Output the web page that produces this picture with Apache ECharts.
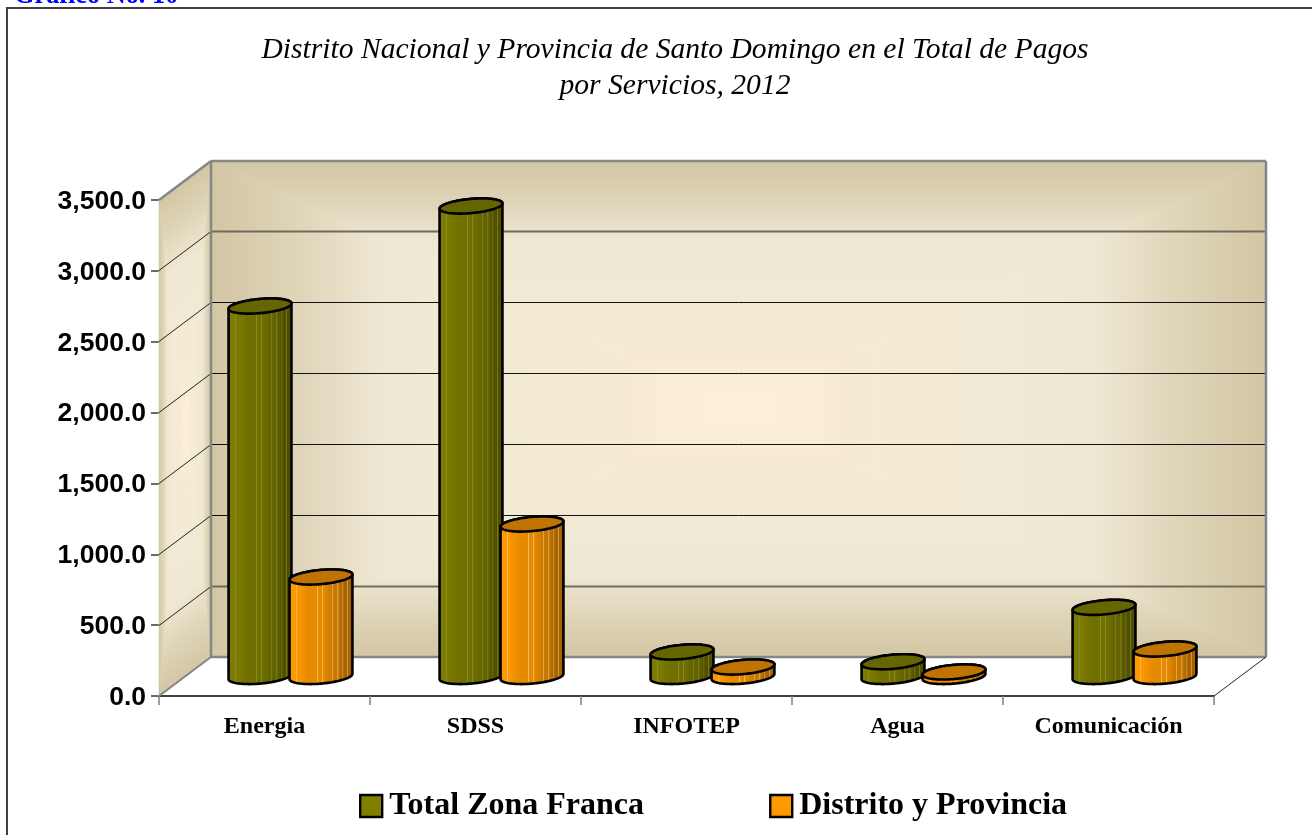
<!DOCTYPE html>
<html><head><meta charset="utf-8">
<style>html,body{margin:0;padding:0;background:#fff;overflow:hidden}#c{width:1312px;height:835px}</style>
<script src="https://cdn.jsdelivr.net/npm/echarts@6/dist/echarts.min.js"></script>
</head><body><div id="c"></div>
<script>
const categories = ['Energia','SDSS','INFOTEP','Agua','Comunicación'];
const totalZonaFranca = [2614, 3320, 173, 104, 488];
const distritoProvincia = [702, 1076, 67, 32, 194];
const seriesNames = ['Total Zona Franca','Distrito y Provincia'];
const yTicks = [0,500,1000,1500,2000,2500,3000,3500];

const DX = 52, DY = 39, BASE_LIFT = 19.5;
const SERIF = '"Liberation Serif","Times New Roman",serif';
const SANS = '"Liberation Sans",Arial,sans-serif';
const WALL = [[0,'#D3C6A4'],[0.15,'#DDD3B6'],[0.33,'#EFE8D3'],[0.56,'#F1EAD4'],[0.60,'#F4EBD3'],
              [0.80,'#F6EBD2'],[0.86,'#FAEDD5'],[1,'#FDEFD9']];

function tri(p,q,cen){
  // triangle from a wall edge to the wall centre; gradient runs perpendicular to the edge
  const ex=q[0]-p[0], ey=q[1]-p[1], len=Math.hypot(ex,ey);
  let nx=-ey/len, ny=ex/len;
  const mx=(p[0]+q[0])/2, my=(p[1]+q[1])/2;
  const d=(cen[0]-mx)*nx+(cen[1]-my)*ny;
  const fill={type:'linear',global:true,x:mx,y:my,x2:mx+d*nx,y2:my+d*ny,
    colorStops:WALL.map(s=>({offset:s[0],color:s[1]}))};
  return {type:'polygon',shape:{points:[p,q,cen]},silent:true,style:{fill,stroke:fill,lineWidth:0.6}};
}
function line(x1,y1,x2,y2,stroke,lineWidth,z2){
  return {type:'line',shape:{x1,y1,x2,y2},z2:z2||1,silent:true,style:{stroke,lineWidth,fill:null}};
}
function wall(a,b,c,d){
  const cen=[(a[0]+b[0]+c[0]+d[0])/4,(a[1]+b[1]+c[1]+d[1])/4];
  return [tri(a,b,cen),tri(b,c,cen),tri(c,d,cen),tri(d,a,cen)];
}
function renderFrame(params,api){
  const cs=params.coordSys;
  const l=cs.x,r=cs.x+cs.width,t=api.coord([0,3500])[1],b=api.coord([0,0])[1];
  const kids=[];
  const bl=l+DX, br=r+DX, bt=t-DY, bb=b-DY;
  kids.push(...wall([bl,bt],[br,bt],[br,bb],[bl,bb]));
  kids.push(...wall([l,t],[bl,bt],[bl,bb],[l,b]));
  yTicks.slice(1,-1).forEach(v=>{
    const y0=api.coord([0,v])[1];
    const y=Math.floor(y0-DY)+0.5;
    const soft=(v===500||v===3000);
    kids.push(line(l,y+DY,bl,y,'#222',1,2));
    kids.push(line(bl,y,br,y,soft?'#6F6B5C':'#111',soft?2:1,2));
  });
  const G='#868686';
  kids.push(line(l,t,bl,bt,G,2.5,3),line(bl,bt,br,bt,G,2.5,3),line(bl,bt,bl,bb,G,2.5,3),
            line(br,bt,br,bb,G,2.5,3),line(bl,bb,br,bb,G,2.5,3),line(l,b,bl,bb,G,2,3));
  kids.push(line(r,b,br,bb,'#222',1,3));
  return {type:'group',children:kids};
}
function cylinderRenderer(side,topColor,sign){
  return function(params,api){
    const i=api.value(0), v=api.value(1);
    const band=api.size([1,0])[0];
    const base=api.coord([i,0]), top=api.coord([i,v]);
    const a=band*0.149, off=band*0.1445;
    const cx=base[0]+DX/2+sign*off;
    const yb=base[1]-BASE_LIFT, yt=top[1]-BASE_LIFT;
    const bb=7.1, s=0.085;
    const pt=(cy,th)=>{const ca=Math.cos(th),sa=Math.sin(th);return [cx+a*ca,cy+bb*sa-s*a*ca];};
    const N=60, sidePts=[], topPts=[];
    for(let k=0;k<=N;k++) sidePts.push(pt(yb,Math.PI*k/N));
    for(let k=0;k<=N;k++) sidePts.push(pt(yt,Math.PI+Math.PI*k/N));
    for(let k=0;k<2*N;k++) topPts.push(pt(yt,Math.PI*k/N));
    const x0=cx-a,w=2*a;
    const fill={type:'linear',global:true,x:x0,y:0,x2:x0+w,y2:0,
      colorStops:side.map(q=>({offset:q[0],color:q[1]}))};
    return {type:'group',children:[
      {type:'polygon',shape:{points:sidePts},style:{fill,stroke:'#000',lineWidth:2.6,lineJoin:'round'}},
      {type:'polygon',shape:{points:topPts},z2:1,style:{fill:topColor,stroke:'#000',lineWidth:2.6}}
    ]};
  };
}
function stripes(c0,c1,c2,c3,hi){
  return [[0,c0],[0.10,c0],[0.105,hi],[0.125,c0],[0.30,c1],[0.44,c1],[0.445,hi],[0.46,c1],[0.52,c1],[0.525,hi],[0.54,c1],
          [0.68,c2],[0.685,hi],[0.70,c2],[0.76,c2],[0.765,hi],[0.78,c2],[0.84,c3],[0.845,hi],[0.86,c3],[0.91,c3],[0.915,hi],[0.93,c3],[1,c3]];
}
const greenSide=stripes('#7C7C00','#707000','#626200','#505000','#8F8F30');
const orangeSide=stripes('#FF9900','#E68A00','#C67700','#A66300','#F4BE70');

const chart=echarts.init(document.getElementById('c'),null,{renderer:'canvas'});
chart.setOption({
  animation:false,
  backgroundColor:'#fff',
  title:{text:'Distrito Nacional y Provincia de Santo Domingo en el Total de Pagos\npor Servicios, 2012',
    left:670,top:27,textAlign:'center',
    textStyle:{fontFamily:SERIF,fontStyle:'italic',fontWeight:'normal',fontSize:29.6,lineHeight:36,color:'#000'}},
  legend:{left:359,top:790,padding:0,itemWidth:22,itemHeight:22,itemGap:125,
    data:seriesNames.map((n,i)=>({name:n,icon:'rect',
      itemStyle:{color:i?'#FF9900':'#808000',borderColor:'#000',borderWidth:2.4}})),
    textStyle:{fontFamily:SERIF,fontWeight:'bold',fontSize:32,color:'#000',padding:[0,0,0,2]}},
  grid:{left:159,top:200,width:1055,height:496,containLabel:false},
  xAxis:{type:'category',data:categories,
    axisLine:{lineStyle:{color:'#404040',width:2}},
    axisTick:{show:true,alignWithLabel:false,length:9,lineStyle:{color:'#808080',width:1.5}},
    axisLabel:{fontFamily:SERIF,fontWeight:'bold',fontSize:24,color:'#000',margin:19}},
  yAxis:{type:'value',min:0,max:3500,interval:500,
    axisLine:{show:true,lineStyle:{color:'#222',width:1}},
    axisTick:{show:true,length:8,lineStyle:{color:'#444',width:1.6}},
    splitLine:{show:false},
    axisLabel:{fontFamily:SANS,fontWeight:'bold',fontSize:26.5,color:'#000',margin:13,
      verticalAlign:'top',lineHeight:3,
      formatter:v=>v.toLocaleString('en-US',{minimumFractionDigits:1,maximumFractionDigits:1})}},
  graphic:[
    {type:'polyline',shape:{points:[[7,840],[7,8],[1320,8]]},style:{fill:null,stroke:'#404040',lineWidth:2},silent:true},
    {type:'text',x:14,y:9,style:{text:'Gráfico No. 10',fill:'#0000FF',font:'bold 26.3px '+SERIF,verticalAlign:'bottom'},silent:true}
  ],
  series:[
    {type:'custom',name:'frame',silent:true,z:1,data:[[0,0]],encode:{x:0,y:1},renderItem:renderFrame},
    {type:'custom',name:seriesNames[0],z:3,itemStyle:{color:'#808000'},encode:{x:0,y:1},
      data:totalZonaFranca.map((v,i)=>[i,v]),renderItem:cylinderRenderer(greenSide,'#666600',-1)},
    {type:'custom',name:seriesNames[1],z:4,itemStyle:{color:'#FF9900'},encode:{x:0,y:1},
      data:distritoProvincia.map((v,i)=>[i,v]),renderItem:cylinderRenderer(orangeSide,'#BF7300',1)}
  ]
});
</script></body></html>
